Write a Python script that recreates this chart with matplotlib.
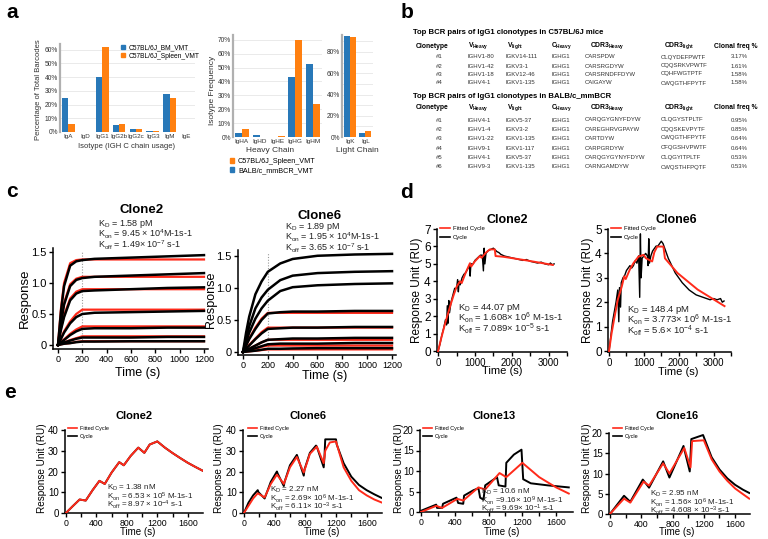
import matplotlib
matplotlib.use('Agg')
import matplotlib.pyplot as plt
from matplotlib.lines import Line2D
from matplotlib.patches import Patch

plt.rcParams['font.family'] = ['Liberation Sans', 'DejaVu Sans']
plt.rcParams['mathtext.fontset'] = 'custom'
plt.rcParams['mathtext.rm'] = 'Liberation Sans'
plt.rcParams['mathtext.it'] = 'Liberation Sans:italic'
plt.rcParams['mathtext.bf'] = 'Liberation Sans:bold'

BLUE = '#2878b8'
ORANGE = '#ff8010'
RED = '#ff2a1a'
TXT = '#222222'

# ---------------- panel a data ----------------
iso_cats = ['IgA', 'IgD', 'IgG1', 'IgG2b', 'IgG2c', 'IgG3', 'IgM', 'IgE']
bm_vals = [25.0, 0.2, 40.0, 5.0, 2.5, 0.8, 27.5, 0.1]
spleen_vals = [6.0, 0.2, 61.5, 5.5, 2.5, 0.5, 24.5, 0.2]

heavy_cats = ['IgHA', 'IgHD', 'IgHE', 'IgHG', 'IgHM']
heavy_balb = [3.0, 1.5, 0.2, 43.0, 52.5]
heavy_spleen = [5.5, 0.1, 0.4, 70.0, 24.0]

light_cats = ['IgK', 'IgL']
light_balb = [95.0, 4.0]
light_spleen = [94.5, 5.5]

# ---------------- panel b data ----------------
b_cols = ['Clonetype', 'V$_{\\mathregular{Heavy}}$', 'V$_{\\mathregular{light}}$', 'C$_{\\mathregular{Heavy}}$',
          'CDR3$_{\\mathregular{Heavy}}$', 'CDR3$_{\\mathregular{light}}$', 'Clonal freq %']
b1_title = 'Top BCR pairs of IgG1 clonotypes in C57BL/6J mice'
b1_rows = [
    ['#1', 'IGHV1-80', 'IGKV14-111', 'IGHG1', 'CARSPDW', 'CLQYDEFPWTF', '3.17%'],
    ['#2', 'IGHV1-42', 'IGKV3-1', 'IGHG1', 'CARSRGDYW', 'CQQSRKVPWTF', '1.61%'],
    ['#3', 'IGHV1-18', 'IGKV12-46', 'IGHG1', 'CARSRNDFFDYW', 'CQHFWGTPTF', '1.58%'],
    ['#4', 'IGHV4-1', 'IGKV1-135', 'IGHG1', 'CAIGAYW', 'CWQGTHFPYTF', '1.58%'],
]
b2_title = 'Top BCR pairs of IgG1 clonotypes in BALB/c_mmBCR'
b2_rows = [
    ['#1', 'IGHV4-1', 'IGKV5-37', 'IGHG1', 'CARQGYGNYFDYW', 'CLQGYSTPLTF', '0.95%'],
    ['#2', 'IGHV1-4', 'IGKV3-2', 'IGHG1', 'CAREGHRVGPAYW', 'CQQSKEVPYTF', '0.85%'],
    ['#3', 'IGHV1-22', 'IGKV1-135', 'IGHG1', 'CARTDYW', 'CWQGTHFPYTF', '0.64%'],
    ['#4', 'IGHV9-1', 'IGKV1-117', 'IGHG1', 'CARPGRDYW', 'CFQGSHVPWTF', '0.64%'],
    ['#5', 'IGHV4-1', 'IGKV5-37', 'IGHG1', 'CARQGYGYNYFDYW', 'CLQGYITPLTF', '0.53%'],
    ['#6', 'IGHV9-3', 'IGKV1-135', 'IGHG1', 'CARNGAMDYW', 'CWQSTHFPQTF', '0.53%'],
]

# ---------------- panel c data ----------------
c2_time = [0, 25, 50, 100, 150, 200, 300, 600, 900, 1200]
c2_black = [
    [0, 0.55, 0.95, 1.28, 1.35, 1.37, 1.39, 1.41, 1.43, 1.45],
    [0, 0.35, 0.65, 0.95, 1.05, 1.08, 1.10, 1.12, 1.14, 1.16],
    [0, 0.25, 0.45, 0.72, 0.83, 0.87, 0.88, 0.90, 0.92, 0.93],
    [0, 0.10, 0.20, 0.35, 0.45, 0.50, 0.52, 0.53, 0.54, 0.55],
    [0, 0.04, 0.08, 0.16, 0.22, 0.26, 0.27, 0.27, 0.28, 0.28],
    [0, 0.02, 0.04, 0.07, 0.10, 0.12, 0.12, 0.12, 0.13, 0.13],
    [0, 0.01, 0.02, 0.03, 0.045, 0.055, 0.055, 0.06, 0.06, 0.06],
]
c2_red_time = [0, 25, 50, 100, 150, 200, 1200]
c2_red = [
    [0, 0.6, 1.0, 1.32, 1.37, 1.38, 1.38],
    [0, 0.38, 0.68, 0.98, 1.07, 1.10, 1.10],
    [0, 0.27, 0.48, 0.75, 0.86, 0.90, 0.90],
    [0, 0.11, 0.22, 0.38, 0.50, 0.57, 0.57],
    [0, 0.05, 0.09, 0.18, 0.25, 0.30, 0.30],
    [0, 0.02, 0.04, 0.08, 0.11, 0.14, 0.14],
    [0, 0.01, 0.02, 0.03, 0.05, 0.06, 0.06],
]
c6_time = [0, 25, 50, 100, 150, 200, 300, 400, 600, 900, 1200]
c6_black = [
    [0, 0.30, 0.55, 0.90, 1.10, 1.25, 1.38, 1.45, 1.50, 1.52, 1.53],
    [0, 0.20, 0.40, 0.68, 0.85, 0.97, 1.12, 1.19, 1.23, 1.25, 1.26],
    [0, 0.15, 0.30, 0.52, 0.68, 0.80, 0.95, 1.01, 1.04, 1.06, 1.07],
    [0, 0.10, 0.20, 0.36, 0.50, 0.60, 0.62, 0.63, 0.63, 0.64, 0.64],
    [0, 0.05, 0.10, 0.20, 0.29, 0.36, 0.37, 0.38, 0.38, 0.39, 0.39],
    [0, 0.03, 0.05, 0.10, 0.15, 0.19, 0.20, 0.21, 0.21, 0.22, 0.22],
    [0, 0.015, 0.03, 0.06, 0.09, 0.12, 0.13, 0.13, 0.13, 0.14, 0.14],
    [0, 0.005, 0.01, 0.02, 0.035, 0.05, 0.05, 0.055, 0.06, 0.06, 0.06],
]
c6_red_time = [0, 50, 100, 150, 200, 1200]
c6_red = [
    [0, 0.21, 0.38, 0.52, 0.61, 0.61],
    [0, 0.11, 0.21, 0.31, 0.38, 0.38],
    [0, 0.05, 0.10, 0.15, 0.19, 0.19],
    [0, 0.03, 0.05, 0.08, 0.10, 0.10],
    [0, 0.01, 0.02, 0.03, 0.04, 0.04],
]

# ---------------- panel d data ----------------
d2_black_t = [0, 50, 100, 150, 200, 230, 250, 270, 290, 310, 350, 400, 450, 500, 530, 550, 570, 600,
              650, 700, 750, 800, 850, 870, 890, 950, 1000, 1050, 1100, 1150, 1200, 1230, 1250, 1270,
              1300, 1350, 1400, 1450, 1500, 1550, 1600, 1650, 1700, 1750, 1800, 1900, 2000, 2100,
              2200, 2300, 2400, 2500, 2600, 2700, 2800, 2900, 3000, 3050, 3100, 3150]
d2_black_v = [0, 0.4, 0.9, 1.3, 1.8, 1.5, 2.6, 1.6, 2.9, 2.2, 2.8, 3.2, 3.6, 3.6, 4.1, 3.4, 4.0, 3.8,
              4.2, 4.4, 4.5, 4.7, 4.9, 4.3, 5.0, 5.0, 5.2, 5.3, 5.4, 5.5, 5.5, 4.6, 5.9, 5.0,
              5.6, 5.75, 5.8, 5.85, 5.9, 5.8, 5.7, 5.65, 5.55, 5.5, 5.45, 5.4, 5.35, 5.3,
              5.25, 5.2, 5.25, 5.15, 5.1, 5.05, 5.1, 5.0, 4.95, 5.05, 4.95, 5.0]
d2_red_t = [0, 80, 160, 234, 330, 420, 505, 595, 640, 750, 865, 900, 1000, 1135, 1180, 1300, 1405,
            1540, 1560, 1766, 2400, 3117]
d2_red_v = [0, 0.7, 1.35, 1.9, 2.6, 3.2, 3.7, 4.0, 3.9, 4.5, 5.04, 4.85, 5.15, 5.45, 5.35, 5.65, 5.83,
            5.83, 5.45, 5.41, 5.2, 4.94]
d6_black_t = [0, 50, 100, 150, 200, 250, 280, 300, 330, 350, 400, 450, 500, 550, 600, 650, 700, 750,
              800, 850, 880, 900, 920, 950, 1000, 1050, 1100, 1120, 1140, 1160, 1200, 1250, 1300,
              1350, 1400, 1450, 1500, 1550, 1600, 1650, 1700, 1800, 1900, 2000, 2100, 2200, 2300,
              2400, 2500, 2600, 2700, 2800, 2900, 3000, 3100, 3200, 3250, 3300]
d6_black_v = [0, 0.6, 1.2, 1.6, 2.0, 2.5, 1.2, 2.6, 1.8, 2.8, 3.0, 3.1, 3.3, 3.4, 3.5, 3.4, 3.5, 3.7,
              3.6, 3.9, 2.2, 4.8, 3.0, 3.8, 3.9, 4.0, 3.9, 3.5, 4.6, 3.6, 3.9, 4.1, 4.2,
              4.3, 4.3, 4.4, 4.5, 4.4, 4.2, 4.0, 3.8, 3.5, 3.2, 3.0, 2.8, 2.65, 2.5,
              2.4, 2.3, 2.25, 2.2, 2.15, 2.1, 2.15, 2.1, 2.15, 2.0, 2.05]
d6_red_t = [0, 70, 145, 250, 367, 435, 480, 600, 700, 845, 990, 1060, 1237, 1300, 1382, 1560, 1604,
            1962, 2541, 3314]
d6_red_v = [0, 0.7, 1.3, 2.1, 2.65, 3.06, 2.95, 3.35, 3.6, 3.87, 3.94, 3.8, 3.67, 4.05, 4.28, 4.28,
            3.8, 3.2, 2.52, 1.84]

# ---------------- panel e data ----------------
e2_t = [0, 90, 180, 260, 350, 440, 510, 600, 700, 760, 850, 950, 1030, 1100, 1200, 1300, 1400, 1500,
        1600, 1700, 1800]
e2_v = [0, 3.3, 6.5, 6.0, 11.0, 15.5, 14.0, 19.5, 24.5, 23.0, 27.5, 31.5, 29.0, 33.0, 34.5, 31.5,
        28.9, 26.5, 24.2, 22.2, 20.3]
e6_black_t = [0, 60, 120, 180, 190, 270, 280, 350, 430, 440, 520, 530, 600, 690, 700, 780, 790, 860,
              940, 950, 1040, 1050, 1060, 1200, 1210, 1300, 1400, 1500, 1600, 1700, 1800]
e6_black_v = [0, 5, 8.5, 11, 10, 7, 8, 15, 20, 19, 13, 15, 23, 28, 27, 18, 21, 29,
              32.5, 32, 22, 27, 35.5, 35.5, 33, 24, 17.5, 13.5, 11, 9, 7.2]
e6_red_t = [0, 60, 120, 180, 270, 350, 430, 520, 600, 690, 780, 860, 950, 1040, 1060, 1120, 1200,
            1300, 1400, 1500, 1600, 1700, 1800]
e6_red_v = [0, 3.5, 7, 9.5, 7.5, 14, 18.5, 14, 22, 27, 19.5, 28.5, 32, 24, 30, 34, 34.5,
            22, 15.5, 11, 8.5, 6.5, 5.0]
e13_black_t = [0, 180, 190, 250, 260, 420, 440, 500, 510, 620, 680, 700, 740, 760, 900, 920, 1000,
               1010, 1100, 1190, 1210, 1300, 1500, 1750]
e13_black_v = [0.3, 1.8, 1.0, 1.0, 2.0, 3.5, 2.2, 2.0, 4.0, 5.3, 5.8, 3.5, 3.0, 6.5, 8.5, 6.5, 6.2,
               12.0, 14.0, 15.2, 8.0, 7.0, 6.5, 6.0]
e13_red_t = [0, 180, 250, 430, 500, 680, 760, 930, 1010, 1200, 1400, 1600, 1750]
e13_red_v = [0, 1.5, 1.0, 3.2, 2.8, 6.0, 5.5, 9.5, 8.5, 12.0, 8.5, 6.0, 4.5]
e16_black_t = [0, 180, 260, 420, 500, 680, 760, 940, 1020, 1040, 1190, 1210, 1300, 1400, 1500, 1600,
               1700, 1780]
e16_black_v = [0, 4.5, 3.0, 8.5, 6.5, 13.0, 9.0, 16.8, 10.5, 18.5, 19.5, 18.5, 14.0, 11.0, 8.8,
               7.2, 6.0, 5.2]
e16_red_t = [0, 180, 260, 430, 500, 680, 760, 950, 1030, 1050, 1200, 1300, 1400, 1500, 1600, 1700,
             1780]
e16_red_v = [0, 3.8, 2.8, 8.0, 7.0, 12.5, 10.0, 16.3, 11.5, 18.0, 18.2, 13.5, 10.5, 8.2, 6.3,
             4.9, 3.8]

# ---------------- helpers ----------------
W, H = 768, 539
fig = plt.figure(figsize=(W / 100, H / 100), dpi=100)


def axp(l, t, r, b):
    return fig.add_axes([l / W, 1 - b / H, (r - l) / W, (b - t) / H])


def txt(x, y, s, **kw):
    kw.setdefault('va', 'center')
    kw.setdefault('ha', 'left')
    return fig.text(x / W, 1 - y / H, s, **kw)


def panel_letter(x, y, s):
    txt(x, y, s, fontsize=15, fontweight='bold', color='black')


def bar_axes(ax, cats, left_vals, right_vals, ymax, ticks, width, xfs):
    xs = list(range(len(cats)))
    ax.bar([x - width / 2 for x in xs], left_vals, width, color=BLUE, zorder=3)
    ax.bar([x + width / 2 for x in xs], right_vals, width, color=ORANGE, zorder=3)
    ax.set_xlim(-0.5, len(cats) - 0.5)
    ax.set_ylim(0, ymax)
    ax.set_xticks(xs)
    ax.set_xticklabels(cats)
    ax.set_yticks(ticks)
    ax.set_yticklabels(['%d%%' % t for t in ticks])
    for sp in ['top', 'right', 'bottom']:
        ax.spines[sp].set_visible(False)
    ax.spines['left'].set_color('#b0b0b0')
    ax.spines['left'].set_linewidth(1.6)
    ax.yaxis.grid(True, color='#e6e6e6', lw=0.6, zorder=0)
    ax.tick_params(axis='y', length=0, labelsize=4.8, pad=1.5, colors='#333333')
    ax.tick_params(axis='x', length=0, labelsize=xfs, pad=1.5, colors='#333333')
    ax.axhline(0, color='#d0d0d0', lw=0.6, zorder=2)


# ---------------- panel a ----------------
panel_letter(6, 13, 'a')
ax1 = axp(60, 44, 195, 132)
bar_axes(ax1, iso_cats, bm_vals, spleen_vals, 64, [0, 10, 20, 30, 40, 50, 60], 0.38, 4.5)
ax1.legend(handles=[Patch(color=BLUE, label='C57BL/6J_BM_VMT'),
                    Patch(color=ORANGE, label='C57BL/6J_Spleen_VMT')],
           loc='upper left', bbox_to_anchor=(121 / W, 1 - 44 / H), bbox_transform=fig.transFigure,
           frameon=False, fontsize=4.8, handlelength=0.6, handleheight=0.6, handletextpad=0.5,
           labelspacing=0.25, borderpad=0, borderaxespad=0)
txt(38, 90, 'Percentage of Total Barcodes', rotation=90, ha='center', fontsize=5.5, color='#333333')
txt(127, 146, 'Isotype (IGH C chain usage)', ha='center', fontsize=5.5, color='#333333')

ax2 = axp(233, 35, 322, 137)
bar_axes(ax2, heavy_cats, heavy_balb, heavy_spleen, 73.5, [0, 10, 20, 30, 40, 50, 60, 70], 0.4, 4.6)
txt(212, 90, 'Isotype Frequency', rotation=90, ha='center', fontsize=6, color='#333333')
txt(270, 150, 'Heavy Chain', ha='center', fontsize=6, color='#333333')

ax3 = axp(342, 35, 373, 137)
bar_axes(ax3, light_cats, light_balb, light_spleen, 96, [0, 20, 40, 60, 80], 0.38, 4.6)
ax3.set_yticks([10, 30, 50, 70, 90], minor=True)
ax3.yaxis.grid(True, which='minor', color='#e6e6e6', lw=0.6, zorder=0)
ax3.tick_params(axis='y', which='minor', length=0)
txt(357, 150, 'Light Chain', ha='center', fontsize=6, color='#333333')

ax2.legend(handles=[Patch(color=ORANGE, label='C57BL/6J_Spleen_VMT'),
                    Patch(color=BLUE, label='BALB/c_mmBCR_VMT')],
           loc='upper left', bbox_to_anchor=(230 / W, 1 - 158 / H), bbox_transform=fig.transFigure,
           frameon=False, fontsize=5.2, handlelength=0.6, handleheight=0.6, handletextpad=0.5,
           labelspacing=0.3, borderpad=0, borderaxespad=0)

# ---------------- panel b ----------------
panel_letter(401, 12, 'b')
col_x = [436, 467, 506, 552, 585, 661, 731]
head_x = [416, 468, 507, 551, 590, 664, 714]


def draw_table(title, rows, y_title, y_head, y_rows):
    txt(413, y_title, title, fontsize=5.6, fontweight='bold', color='black')
    for hx, h in zip(head_x, b_cols):
        txt(hx, y_head, h, fontsize=4.9, fontweight='bold', color='black')
    for yy, row in zip(y_rows, rows):
        for cx, cell in zip(col_x, row):
            txt(cx, yy, cell, fontsize=4.3, color='#333333')


draw_table(b1_title, b1_rows, 33, 46, [57, 66, 74, 83])
draw_table(b2_title, b2_rows, 96, 108, [120, 129, 138, 148, 157, 167])


# ---------------- panel c ----------------
def style_kin(ax, xs, ys, xlsz, ylsz):
    for sp in ['top', 'right']:
        ax.spines[sp].set_visible(False)
    for sp in ['left', 'bottom']:
        ax.spines[sp].set_linewidth(1.1)
    ax.tick_params(axis='x', labelsize=xlsz, length=3, width=1, pad=1.5)
    ax.tick_params(axis='y', labelsize=ylsz, length=3, width=1, pad=1.5)
    ax.set_xticks(xs)
    ax.set_yticks(ys)


panel_letter(6, 191, 'c')
axc2 = axp(53, 248, 208, 349)
for ys in c2_red:
    axc2.plot(c2_red_time, ys, color=RED, lw=1.6, zorder=2)
for ys in c2_black:
    axc2.plot(c2_time, ys, color='black', lw=1.8, zorder=3)
axc2.plot([200, 200], [0, 1.5], color='#999999', lw=0.8, ls=(0, (1, 1.5)), zorder=1)
axc2.set_xlim(-41, 1233)
axc2.set_ylim(-0.065, 1.565)
style_kin(axc2, [0, 200, 400, 600, 800, 1000, 1200], [0, 0.5, 1.0, 1.5], 6.5, 8)
axc2.set_yticklabels(['0', '0.5', '1.0', '1.5'])
txt(142, 210, 'Clone2', ha='center', fontsize=9.5, fontweight='bold')
txt(98, 224, 'K$_{\\mathregular{D}}$ = 1.58 pM', fontsize=6.5, color=TXT)
txt(98, 234.5, 'K$_{\\mathregular{on}}$ = 9.45 × 10$^{\\mathregular{4}}$M-1s-1', fontsize=6.5, color=TXT)
txt(98, 245, 'K$_{\\mathregular{off}}$ = 1.49× 10$^{\\mathregular{-7}}$ s-1', fontsize=6.5, color=TXT)
txt(25, 298, 'Response', rotation=90, ha='center', fontsize=9.5)
txt(138, 373, 'Time (s)', ha='center', fontsize=9)

axc6 = axp(238, 250, 396, 355)
for ys in c6_red:
    axc6.plot(c6_red_time, ys, color=RED, lw=1.6, zorder=2)
for ys in c6_black:
    axc6.plot(c6_time, ys, color='black', lw=1.8, zorder=3)
axc6.plot([200, 200], [0, 1.55], color='#999999', lw=0.8, ls=(0, (1, 1.5)), zorder=1)
axc6.set_xlim(-40, 1232)
axc6.set_ylim(-0.047, 1.59)
style_kin(axc6, [0, 200, 400, 600, 800, 1000, 1200], [0, 0.5, 1.0, 1.5], 6.5, 8)
axc6.set_yticklabels(['0', '0.5', '1.0', '1.5'])
txt(320, 216, 'Clone6', ha='center', fontsize=9.5, fontweight='bold')
txt(285, 227, 'K$_{\\mathregular{D}}$ = 1.89 pM', fontsize=6.5, color=TXT)
txt(285, 237.5, 'K$_{\\mathregular{on}}$ = 1.95 × 10$^{\\mathregular{4}}$M-1s-1', fontsize=6.5, color=TXT)
txt(285, 248, 'K$_{\\mathregular{off}}$ = 3.65 × 10$^{\\mathregular{-7}}$ s-1', fontsize=6.5, color=TXT)
txt(211, 300, 'Response', rotation=90, ha='center', fontsize=9)
txt(325, 376, 'Time (s)', ha='center', fontsize=9)


def cycle_legend(ax, x, y, fs):
    ax.legend(handles=[Line2D([], [], color=RED, lw=1.2, label='Fitted Cycle'),
                       Line2D([], [], color='black', lw=1.2, label='Cycle')],
              loc='upper left', bbox_to_anchor=(x / W, 1 - y / H), bbox_transform=fig.transFigure,
              frameon=False, fontsize=fs, handlelength=1.6, handletextpad=0.5, labelspacing=0.6,
              borderpad=0, borderaxespad=0)


# ---------------- panel d ----------------
panel_letter(400, 193, 'd')
axd2 = axp(437, 229, 567, 352)
axd2.plot(d2_black_t, d2_black_v, color='black', lw=1.0, zorder=2)
axd2.plot(d2_red_t, d2_red_v, color=RED, lw=1.4, zorder=3)
axd2.set_xlim(-30, 3500)
axd2.set_ylim(-0.05, 7)
style_kin(axd2, [0, 1000, 2000, 3000], [0, 1, 2, 3, 4, 5, 6, 7], 7, 8.5)
axd2.set_xticks([500, 1500, 2500, 3500], minor=True)
axd2.tick_params(axis='x', which='minor', length=3, width=1)
cycle_legend(axd2, 440, 226, 4.3)
txt(507, 220, 'Clone2', ha='center', fontsize=9, fontweight='bold')
txt(458, 308, 'K$_{\\mathregular{D}}$ = 44.07 pM', fontsize=6.8, color=TXT)
txt(458, 318, 'K$_{\\mathregular{on}}$ = 1.608× 10$^{\\mathregular{6}}$ M-1s-1', fontsize=6.8, color=TXT)
txt(458, 329, 'K$_{\\mathregular{off}}$ = 7.089× 10$^{\\mathregular{-5}}$ s-1', fontsize=6.8, color=TXT)
txt(417, 290, 'Response Unit (RU)', rotation=90, ha='center', fontsize=8.5)
txt(502, 371, 'Time (s)', ha='center', fontsize=8)

axd6 = axp(608, 229, 731, 352)
axd6.plot(d6_black_t, d6_black_v, color='black', lw=1.0, zorder=2)
axd6.plot(d6_red_t, d6_red_v, color=RED, lw=1.4, zorder=3)
axd6.set_xlim(-30, 3500)
axd6.set_ylim(-0.04, 5)
style_kin(axd6, [0, 1000, 2000, 3000], [0, 1, 2, 3, 4, 5], 7, 8.5)
axd6.set_xticks([500, 1500, 2500, 3500], minor=True)
axd6.tick_params(axis='x', which='minor', length=3, width=1)
cycle_legend(axd6, 611, 226, 4.3)
txt(676, 220, 'Clone6', ha='center', fontsize=9, fontweight='bold')
txt(627, 310, 'K$_{\\mathregular{D}}$ = 148.4 pM', fontsize=6.8, color=TXT)
txt(627, 320, 'K$_{\\mathregular{on}}$ = 3.773× 10$^{\\mathregular{6}}$ M-1s-1', fontsize=6.8, color=TXT)
txt(627, 331, 'K$_{\\mathregular{off}}$ = 5.6× 10$^{\\mathregular{-4}}$ s-1', fontsize=6.8, color=TXT)
txt(588, 290, 'Response Unit (RU)', rotation=90, ha='center', fontsize=8.5)
txt(678, 372, 'Time (s)', ha='center', fontsize=8)

# ---------------- panel e ----------------
panel_letter(4, 393, 'e')


def e_panel(l, r, top, bot, xmax, ymax, yticks, bt, bv, rt, rv, title, tcx, lines, tx, ty,
            ylx, tlx, legx):
    ax = axp(l, top, r, bot)
    ax.plot(bt, bv, color='black', lw=1.4, zorder=2)
    ax.plot(rt, rv, color=RED, lw=1.4, zorder=3)
    ax.set_xlim(-12, xmax)
    ax.set_ylim(0, ymax)
    style_kin(ax, [0, 400, 800, 1200, 1600], yticks, 6.3, 7)
    ax.set_xticks([200, 600, 1000, 1400], minor=True)
    ax.tick_params(axis='x', which='minor', length=3, width=1)
    cycle_legend(ax, legx, 426, 4.0)
    txt(tcx, 416, title, ha='center', fontsize=8, fontweight='bold')
    for i, s in enumerate(lines):
        txt(tx, ty + 8.5 * i, s, fontsize=5.8, color=TXT)
    txt(ylx, 468, 'Response Unit (RU)', rotation=90, ha='center', fontsize=7.2)
    txt(tlx, 532, 'Time (s)', ha='center', fontsize=7)
    return ax


e_panel(65, 203, 430, 513, 1800, 40, [0, 10, 20, 30, 40], e2_t, e2_v, e2_t, e2_v, 'Clone2', 134,
        ['K$_{\\mathregular{D}}$ = 1.38 nM',
         'K$_{\\mathregular{on}}$ = 6.53 × 10$^{\\mathregular{5}}$ M-1s-1',
         'K$_{\\mathregular{off}}$ = 8.97 × 10$^{\\mathregular{-4}}$ s-1'], 107, 488, 42, 138, 68)
e_panel(243, 382, 430, 513, 1800, 40, [0, 10, 20, 30, 40], e6_black_t, e6_black_v, e6_red_t, e6_red_v,
        'Clone6', 308,
        ['K$_{\\mathregular{D}}$ = 2.27 nM',
         'K$_{\\mathregular{on}}$ = 2.69× 10$^{\\mathregular{6}}$ M-1s-1',
         'K$_{\\mathregular{off}}$ = 6.11× 10$^{\\mathregular{-3}}$ s-1'], 270, 490, 219, 322, 248)
e_panel(420, 573, 430, 512, 1800, 20, [0, 5, 10, 15, 20], e13_black_t, e13_black_v, e13_red_t,
        e13_red_v, 'Clone13', 494,
        ['K$_{\\mathregular{D}}$ = 10.6 nM',
         'K$_{\\mathregular{on}}$ =9.16× 10$^{\\mathregular{9}}$ M-1s-1',
         'K$_{\\mathregular{off}}$ = 9.69× 10$^{\\mathregular{-1}}$ s-1'], 481, 492, 399, 502, 423)
e_panel(609, 750, 433, 514, 1790, 20, [0, 5, 10, 15, 20], e16_black_t, e16_black_v, e16_red_t,
        e16_red_v, 'Clone16', 677,
        ['K$_{\\mathregular{D}}$ = 2.95 nM',
         'K$_{\\mathregular{on}}$ = 1.56× 10$^{\\mathregular{6}}$ M-1s-1',
         'K$_{\\mathregular{off}}$ = 4.608 × 10$^{\\mathregular{-3}}$ s-1'], 650, 494, 587, 677, 613)

fig.savefig('out.png', dpi=100)
